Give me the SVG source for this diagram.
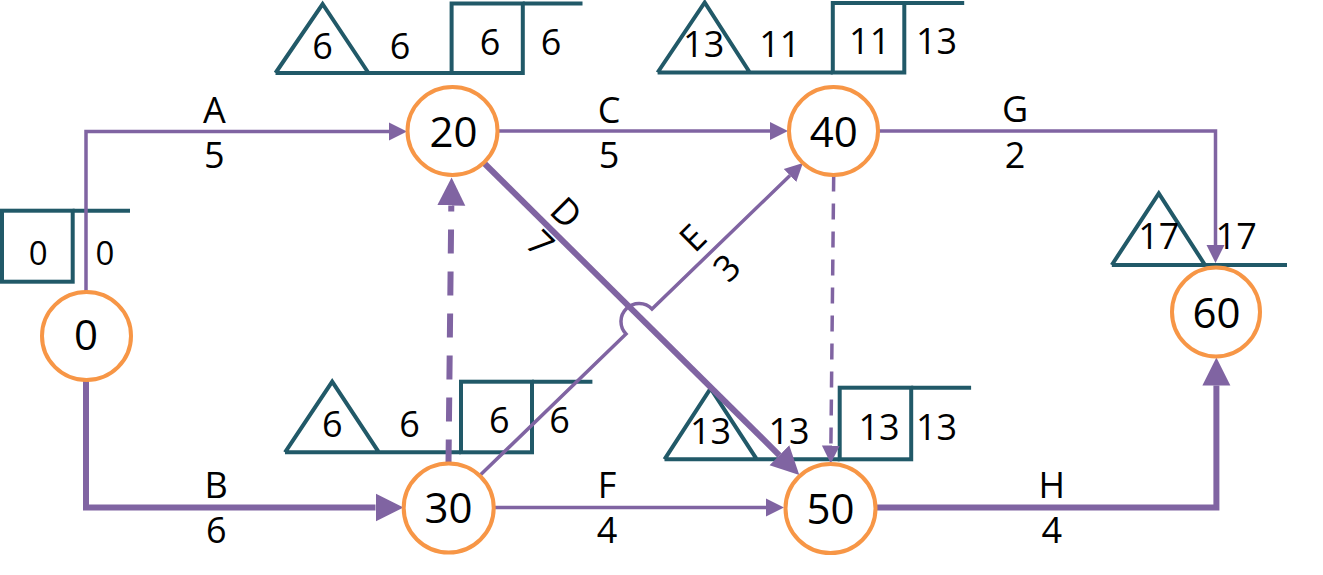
<svg xmlns="http://www.w3.org/2000/svg" width="1323" height="575" viewBox="0 0 1323 575">
<style>
  .t { font-family: "Open Sans", "Noto Sans", "DejaVu Sans", sans-serif; font-size: 36px; fill: #000; text-anchor: middle; }
  .tn { font-size: 42px; }
  .ts { font-size: 33px; }
  .ann { fill: none; stroke: #215968; stroke-width: 4; stroke-linejoin: miter; }
  .c { fill: none; stroke: #8064A2; stroke-linejoin: miter; stroke-linecap: butt; }
  .thin { stroke-width: 3.5; }
  .thick { stroke-width: 6; }
  .node { fill: #FFFFFF; stroke: #F79646; stroke-width: 4; }
</style>
<defs>
  <marker id="ah-s" markerUnits="userSpaceOnUse" viewBox="0 -10 20 20" markerWidth="20" markerHeight="20" refX="0" refY="0" orient="auto">
    <path d="M0,-9 L18,0 L0,9 Z" fill="#8064A2"/>
  </marker>
  <marker id="ah-l" markerUnits="userSpaceOnUse" viewBox="0 -15 30 30" markerWidth="30" markerHeight="30" refX="0" refY="0" orient="auto">
    <path d="M0,-14 L28,0 L0,14 Z" fill="#8064A2"/>
  </marker>
</defs>
<rect width="1323" height="575" fill="#FFFFFF"/>

<!-- annotations -->
<g id="ann-0">
  <rect class="ann" x="2" y="210.7" width="70.7" height="71"/>
  <line class="ann" x1="72.7" y1="210.7" x2="130" y2="210.7"/>
  <text class="t ts" x="38.3" y="265">0</text>
  <text class="t ts" x="105" y="265">0</text>
</g>
<g id="ann-20">
  <path class="ann" d="M275.5,73 L322.6,4 L368.5,73 M275.5,73 H451.6"/>
  <rect class="ann" x="451.6" y="3.5" width="71.2" height="69.5"/>
  <line class="ann" x1="522.8" y1="3.5" x2="582.5" y2="3.5"/>
  <text class="t" x="322.6" y="58.5">6</text>
  <text class="t" x="400" y="58.5">6</text>
  <text class="t" x="490" y="55">6</text>
  <text class="t" x="551" y="55">6</text>
</g>
<g id="ann-40">
  <path class="ann" d="M657.6,72.5 L704.7,2.5 L749.8,72.5 M657.6,72.5 H832.8"/>
  <rect class="ann" x="832.8" y="3" width="71.5" height="69.5"/>
  <line class="ann" x1="904.3" y1="3" x2="964.2" y2="3"/>
  <text class="t" x="703.7" y="57.3">13</text>
  <text class="t" x="779.8" y="56.7">11</text>
  <text class="t" x="869.7" y="54">11</text>
  <text class="t" x="936.6" y="54">13</text>
</g>
<g id="ann-30">
  <path class="ann" d="M285,452.3 L332.2,381.7 L378.9,452.3 M285,452.3 H461"/>
  <rect class="ann" x="461" y="381.7" width="71" height="70.6"/>
  <line class="ann" x1="532" y1="381.7" x2="592.4" y2="381.7"/>
  <text class="t" x="332.2" y="436.7">6</text>
  <text class="t" x="409.5" y="436.7">6</text>
  <text class="t" x="499.4" y="433.3">6</text>
  <text class="t" x="559.5" y="433.3">6</text>
</g>
<g id="ann-50">
  <path class="ann" d="M664.5,459.3 L710.6,388.3 L756.8,459.3 M664.5,459.3 H839.7"/>
  <rect class="ann" x="839.7" y="387.7" width="71.5" height="71.6"/>
  <line class="ann" x1="911.2" y1="387.7" x2="971.1" y2="387.7"/>
  <text class="t" x="710.6" y="444">13</text>
  <text class="t" x="789" y="444">13</text>
  <text class="t" x="879" y="440">13</text>
  <text class="t" x="936.6" y="440">13</text>
</g>
<g id="ann-60">
  <path class="ann" d="M1111.8,265 L1158.8,193.3 L1205,265 M1111.8,265 H1287"/>
  <text class="t" x="1158.8" y="249.3">17</text>
  <text class="t" x="1236.2" y="249.3">17</text>
</g>

<!-- connectors -->
<g id="connectors">
  <path id="edge-A" class="c thin" d="M86,291 V131.5 H389" marker-end="url(#ah-s)"/>
  <path id="edge-B" class="c thick" d="M86,380.5 V507.5 H375.5" marker-end="url(#ah-l)"/>
  <path id="edge-C" class="c thin" d="M497.5,131 H770" marker-end="url(#ah-s)"/>
  <path id="edge-E" class="c thin" d="M480.3,475 L626,334 A18,18 0 0 1 652,309 L790,175.5" marker-end="url(#ah-s)"/>
  <path id="edge-D" class="c thick" d="M484,163 L779.4,455.3" marker-end="url(#ah-l)"/>
  <path id="dummy-30-20" class="c thick" d="M448.5,463.5 L451.3,205.5" stroke-dasharray="24 18" marker-end="url(#ah-l)"/>
  <path id="dummy-40-50" class="c thin" d="M833.7,175.5 L830.9,445.5" stroke-dasharray="16 12" marker-end="url(#ah-s)"/>
  <path id="edge-F" class="c thin" d="M493.7,507.5 H766" marker-end="url(#ah-s)"/>
  <path id="edge-G" class="c thin" d="M878.5,131 H1215.5 V245" marker-end="url(#ah-s)"/>
  <path id="edge-H" class="c thick" d="M875.5,507.5 H1216.4 V385.5" marker-end="url(#ah-l)"/>
</g>

<!-- edge labels -->
<g id="edge-labels">
  <text class="t" x="214.3" y="123.3">A</text>
  <text class="t" x="214.3" y="168.3">5</text>
  <text class="t" x="609" y="123.3">C</text>
  <text class="t" x="609" y="168.3">5</text>
  <text class="t" x="1015" y="122">G</text>
  <text class="t" x="1015" y="167.5">2</text>
  <text class="t" x="216.2" y="498.3">B</text>
  <text class="t" x="216.2" y="543.3">6</text>
  <text class="t" x="607" y="498.3">F</text>
  <text class="t" x="607" y="543.3">4</text>
  <text class="t" x="1051.8" y="498.3">H</text>
  <text class="t" x="1051.8" y="543.3">4</text>
  <text class="t" transform="translate(566,213) rotate(45)" x="0" y="12.5">D</text>
  <text class="t" transform="translate(540,244) rotate(45)" x="0" y="12.5">7</text>
  <text class="t" transform="translate(693,238) rotate(-45)" x="0" y="12.5">E</text>
  <text class="t" transform="translate(727,268) rotate(-45)" x="0" y="12.5">3</text>
</g>

<!-- nodes -->
<g id="node-0">
  <ellipse class="node" cx="86.5" cy="336" rx="44.5" ry="44"/>
  <text class="t tn" x="86" y="350">0</text>
</g>
<g id="node-20">
  <ellipse class="node" cx="452.5" cy="131" rx="45" ry="44"/>
  <text class="t tn" x="453.5" y="146.7">20</text>
</g>
<g id="node-40">
  <ellipse class="node" cx="833.5" cy="131" rx="44.5" ry="44"/>
  <text class="t tn" x="833.7" y="146.7">40</text>
</g>
<g id="node-30">
  <ellipse class="node" cx="448.7" cy="508" rx="45" ry="44.5"/>
  <text class="t tn" x="448.5" y="523.3">30</text>
</g>
<g id="node-50">
  <ellipse class="node" cx="830.5" cy="508.5" rx="45" ry="44.5"/>
  <text class="t tn" x="830.5" y="524">50</text>
</g>
<g id="node-60">
  <ellipse class="node" cx="1216" cy="312" rx="44" ry="44.5"/>
  <text class="t tn" x="1216.4" y="328">60</text>
</g>
</svg>
